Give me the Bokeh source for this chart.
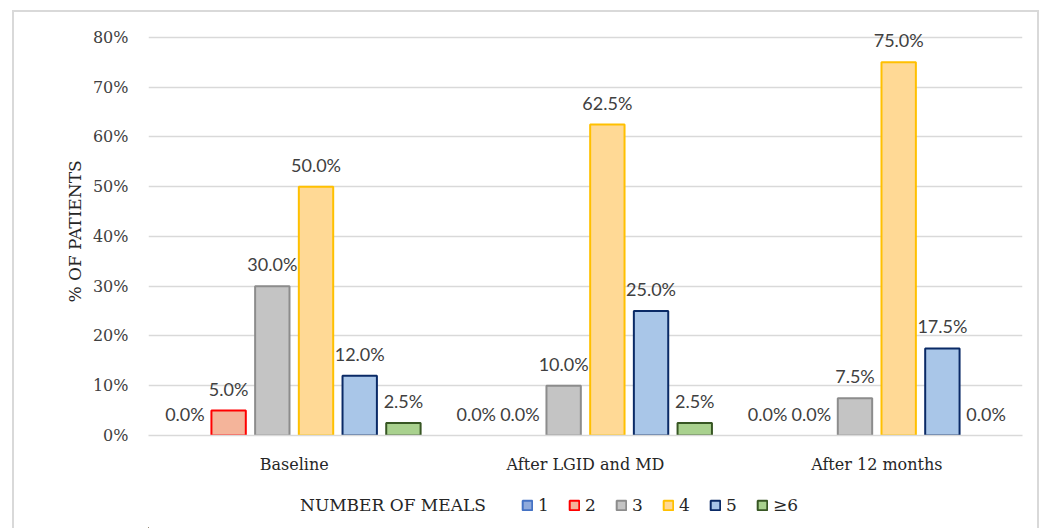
from bokeh.plotting import figure
from bokeh.layouts import column
from bokeh.models import (ColumnDataSource, Legend, LegendItem, PrintfTickFormatter,
                          FixedTicker, Range1d)
from bokeh.transform import dodge
from bokeh.embed import file_html
from bokeh.resources import INLINE
from bokeh.core.properties import value

# ---- data ----
groups = ["Baseline", "After LGID and MD", "After 12 months"]
meal_labels = ["1", "2", "3", "4", "5", "≥6"]
legend_title = "NUMBER OF MEALS"
meals_1 = [0.0, 0.0, 0.0]
meals_2 = [5.0, 0.0, 0.0]
meals_3 = [30.0, 10.0, 7.5]
meals_4 = [50.0, 62.5, 75.0]
meals_5 = [12.0, 25.0, 17.5]
meals_6 = [2.5, 2.5, 0.0]
y_ticks = [0, 10, 20, 30, 40, 50, 60, 70, 80]

series = [meals_1, meals_2, meals_3, meals_4, meals_5, meals_6]
fills = ["#8FAADC", "#F4B49A", "#C4C4C4", "#FFD995", "#A9C6E8", "#A9D18E"]
lines = ["#4472C4", "#FF0000", "#8C8C8C", "#FFC000", "#0A2A66", "#375623"]

SERIF = "DejaVu Serif"
SANS = "Lato"
BORDER = "2px solid #D9D9D9"

p = figure(x_range=groups, y_range=Range1d(0, 82), width=1027, height=478,
           output_backend="svg", toolbar_location=None,
           min_border_left=134, min_border_right=19, min_border_top=15, min_border_bottom=55)
p.outline_line_color = None
p.background_fill_color = "white"
p.border_fill_color = "white"
p.styles = {"border-left": BORDER, "border-top": BORDER, "border-right": BORDER}

step = 0.150
bar_w = 0.118

for i, vals in enumerate(series):
    src = ColumnDataSource(dict(
        g=groups, v=vals,
        txt=[f"{v:.1f}%" for v in vals],
        la=[0.0 if v == 0 else 1.0 for v in vals],
    ))
    off = (i - 2.5) * step
    p.vbar(x=dodge("g", off, range=p.x_range), top="v", width=bar_w, source=src,
           fill_color=fills[i], line_color=lines[i], line_width=2, line_alpha="la")
    p.text(x=dodge("g", off, range=p.x_range), y="v", text="txt", source=src,
           text_align="center", text_baseline="middle", y_offset=-22,
           text_font=value(SANS), text_font_size="18px", text_color="#404040")

p.yaxis.ticker = FixedTicker(ticks=y_ticks)
p.yaxis.formatter = PrintfTickFormatter(format="%d%%")
p.yaxis.axis_line_color = None
p.yaxis.major_tick_line_color = None
p.yaxis.minor_tick_line_color = None
p.yaxis.major_label_text_font = SERIF
p.yaxis.major_label_text_font_size = "16px"
p.yaxis.major_label_text_color = "#404040"
p.yaxis.major_label_standoff = 14
p.yaxis.axis_label = "% OF PATIENTS"
p.yaxis.axis_label_text_font = SERIF
p.yaxis.axis_label_text_font_size = "17px"
p.yaxis.axis_label_text_font_style = "normal"
p.yaxis.axis_label_text_color = "#262626"
p.yaxis.axis_label_standoff = 5

p.xaxis.axis_line_color = "#D9D9D9"
p.xaxis.axis_line_width = 1.5
p.xaxis.major_tick_line_color = None
p.xaxis.minor_tick_line_color = None
p.xaxis.major_label_text_font = SERIF
p.xaxis.major_label_text_font_size = "16px"
p.xaxis.major_label_text_color = "#262626"
p.xaxis.major_label_standoff = 13

p.xgrid.grid_line_color = None
p.ygrid.grid_line_color = "#D9D9D9"
p.ygrid.grid_line_width = 1.5

# ---- legend strip (same style as the bars) ----
p2 = figure(width=1027, height=40, x_range=Range1d(0, 1), y_range=Range1d(0, 1),
            x_axis_type=None, y_axis_type=None, output_backend="svg", toolbar_location=None,
            min_border=0)
p2.outline_line_color = None
p2.grid.grid_line_color = None
p2.styles = {"border-left": BORDER, "border-right": BORDER}

# one off-screen row so that the legend can draw each swatch
hidden = dict(x=[-10.0], top=[-10.0], bottom=[-20.0])
title_r = p2.vbar(x="x", top="top", bottom="bottom", width=0.1,
                  source=ColumnDataSource(hidden), fill_alpha=0, line_alpha=0)
items = [LegendItem(label=legend_title + "    \u2009", renderers=[title_r])]
for i, lab in enumerate(meal_labels):
    r = p2.vbar(x="x", top="top", bottom="bottom", width=0.1,
                source=ColumnDataSource(hidden),
                fill_color=fills[i], line_color=lines[i], line_width=2)
    items.append(LegendItem(label=lab, renderers=[r]))

legend = Legend(items=items, orientation="horizontal", location=(135, 13),
                padding=0, margin=0, spacing=10, glyph_width=12, glyph_height=12,
                label_standoff=5, border_line_color=None, background_fill_alpha=0,
                label_text_font=SERIF, label_text_font_size="17px", label_text_color="#262626")
p2.add_layout(legend, "center")

layout = column(p, p2, spacing=0, styles={"margin-left": "12px", "margin-top": "10px"})

open("out.html", "w").write(file_html(layout, INLINE))
